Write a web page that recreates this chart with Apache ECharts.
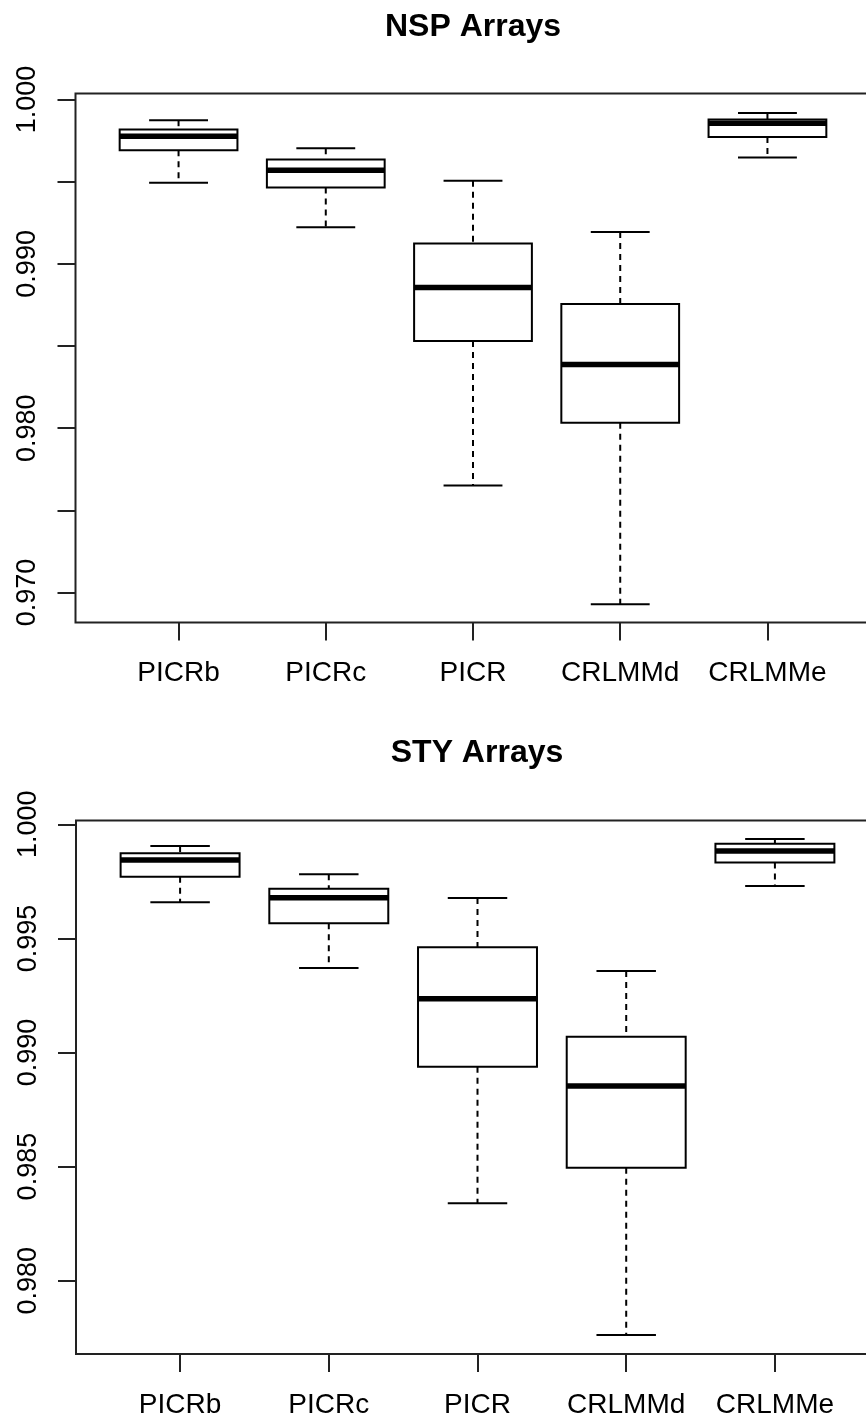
<!DOCTYPE html>
<html>
<head>
<meta charset="utf-8">
<script src="https://cdn.jsdelivr.net/npm/echarts@6/dist/echarts.min.js"></script>
<style>
  html, body { margin: 0; padding: 0; background: #fff; }
  #chart { width: 866px; height: 1420px; }
</style>
</head>
<body>
<div id="chart"></div>
<script>
// Array platforms compared in both panels
const categories = ['PICRb', 'PICRc', 'PICR', 'CRLMMd', 'CRLMMe'];

// Box summaries per platform: [lower whisker, Q1, median, Q3, upper whisker]
const nspStats = [
  [0.99493, 0.99691, 0.99777, 0.99817, 0.99874],
  [0.99223, 0.99464, 0.99570, 0.99635, 0.99704],
  [0.97651, 0.98531, 0.98856, 0.99124, 0.99505],
  [0.96929, 0.98034, 0.98387, 0.98756, 0.99194],
  [0.99647, 0.99772, 0.99855, 0.99878, 0.99918]
];
const styStats = [
  [0.99658, 0.99770, 0.99844, 0.99873, 0.99905],
  [0.99370, 0.99566, 0.99678, 0.99718, 0.99781],
  [0.98339, 0.98938, 0.99236, 0.99461, 0.99677],
  [0.97762, 0.98495, 0.98853, 0.99069, 0.99357],
  [0.99730, 0.99833, 0.99883, 0.99915, 0.99936]
];

// Y-axis ticks and the subset of ticks that carry a label
const nspTicks = [0.970, 0.975, 0.980, 0.985, 0.990, 0.995, 1.000];
const nspLabels = [0.970, 0.980, 0.990, 1.000];
const styTicks = [0.980, 0.985, 0.990, 0.995, 1.000];
const styLabels = [0.980, 0.985, 0.990, 0.995, 1.000];

// Box centres sit at 1..n on the x scale
const positions = categories.map((c, i) => i + 1);

const FONT = "'Liberation Sans', Arial, Helvetica, sans-serif";
const INK = '#000';
const BOX_WIDTH = 0.8; // in x-axis units

function renderBox(params, api) {
  const x = api.value(0);
  const lo = api.coord([x, api.value(1)]);
  const q1 = api.coord([x, api.value(2)]);
  const md = api.coord([x, api.value(3)]);
  const q3 = api.coord([x, api.value(4)]);
  const hi = api.coord([x, api.value(5)]);
  const bw = api.size([BOX_WIDTH, 0])[0];
  const half = bw / 2;
  const cap = bw / 4;
  const cx = lo[0];
  const solid = { stroke: INK, lineWidth: 2 };
  const dashed = { stroke: INK, lineWidth: 2, lineDash: [6, 5] };
  return {
    type: 'group',
    children: [
      { type: 'line', shape: { x1: cx, y1: hi[1], x2: cx, y2: q3[1] }, style: dashed },
      { type: 'line', shape: { x1: cx, y1: q1[1], x2: cx, y2: lo[1] }, style: dashed },
      { type: 'line', shape: { x1: cx - cap, y1: hi[1], x2: cx + cap, y2: hi[1] }, style: solid },
      { type: 'line', shape: { x1: cx - cap, y1: lo[1], x2: cx + cap, y2: lo[1] }, style: solid },
      { type: 'rect', shape: { x: cx - half, y: q3[1], width: bw, height: q1[1] - q3[1] },
        style: { fill: '#fff', stroke: INK, lineWidth: 2 } },
      { type: 'line', shape: { x1: cx - half, y1: md[1], x2: cx + half, y2: md[1] },
        style: { stroke: INK, lineWidth: 5.5 } }
    ]
  };
}

function xAxisFor(gridIndex) {
  return {
    type: 'value', gridIndex: gridIndex, min: 0.3, max: 5.7,
    axisLine: { show: false },
    splitLine: { show: false },
    axisTick: { show: true, inside: false, length: 18, customValues: positions,
                lineStyle: { color: '#222', width: 2 } },
    axisLabel: { customValues: positions, margin: 37, fontSize: 28, color: INK, fontFamily: FONT,
                 formatter: v => categories[Math.round(v) - 1] }
  };
}

function yAxisFor(gridIndex, min, max, ticks, labels) {
  return {
    type: 'value', gridIndex: gridIndex, min: min, max: max,
    axisLine: { show: false },
    splitLine: { show: false },
    axisTick: { show: true, inside: false, length: 18, customValues: ticks,
                lineStyle: { color: '#222', width: 2 } },
    axisLabel: { customValues: labels, rotate: 90, margin: 34, fontSize: 27, color: INK, fontFamily: FONT,
                 formatter: v => v.toFixed(3) }
  };
}

const chart = echarts.init(document.getElementById('chart'), null, { renderer: 'canvas' });
chart.setOption({
  animation: false,
  backgroundColor: '#fff',
  title: [
    { text: 'NSP Arrays', left: 473, top: 11, textAlign: 'center', padding: 0,
      textStyle: { fontFamily: FONT, fontWeight: 'bold', fontSize: 32, color: INK } },
    { text: 'STY Arrays', left: 477, top: 737, textAlign: 'center', padding: 0,
      textStyle: { fontFamily: FONT, fontWeight: 'bold', fontSize: 32, color: INK } }
  ],
  grid: [
    { left: 75.5, top: 93.5, width: 795, height: 529, show: true,
      containLabel: false, outerBoundsMode: 'none',
      borderColor: '#222', borderWidth: 2, backgroundColor: 'transparent' },
    { left: 76, top: 820.5, width: 803, height: 533.5, show: true,
      containLabel: false, outerBoundsMode: 'none',
      borderColor: '#222', borderWidth: 2, backgroundColor: 'transparent' }
  ],
  xAxis: [xAxisFor(0), xAxisFor(1)],
  yAxis: [
    yAxisFor(0, 0.96818, 1.000365, nspTicks, nspLabels),
    yAxisFor(1, 0.976788, 1.000167, styTicks, styLabels)
  ],
  series: [
    { name: 'NSP Arrays', type: 'custom', xAxisIndex: 0, yAxisIndex: 0, clip: false,
      renderItem: renderBox, encode: { x: 0, y: [1, 2, 3, 4, 5] },
      data: nspStats.map((s, i) => [positions[i]].concat(s)) },
    { name: 'STY Arrays', type: 'custom', xAxisIndex: 1, yAxisIndex: 1, clip: false,
      renderItem: renderBox, encode: { x: 0, y: [1, 2, 3, 4, 5] },
      data: styStats.map((s, i) => [positions[i]].concat(s)) }
  ]
});
</script>
</body>
</html>
